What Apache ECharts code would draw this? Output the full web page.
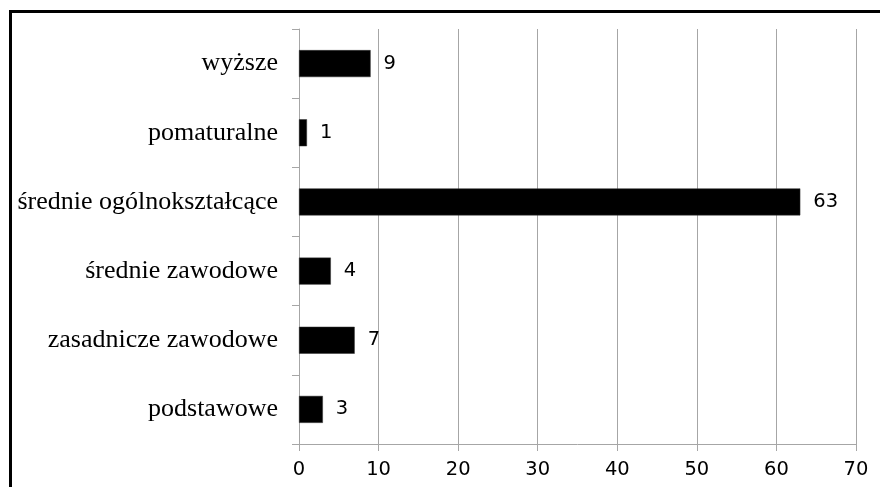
<!DOCTYPE html>
<html>
<head>
<meta charset="utf-8">
<script src="https://cdn.jsdelivr.net/npm/echarts@6/dist/echarts.min.js"></script>
<style>html,body{margin:0;padding:0;background:#fff}#c{width:880px;height:487px}</style>
</head>
<body>
<div id="c"></div>
<script>
const categories = ["podstawowe", "zasadnicze zawodowe", "średnie zawodowe", "średnie ogólnokształcące", "pomaturalne", "wyższe"];
const values = [3, 7, 4, 63, 1, 9];
const xTicks = [0, 10, 20, 30, 40, 50, 60, 70];

const chart = echarts.init(document.getElementById('c'), null, {renderer: 'canvas'});
const gridColor = '#a6a6a6';
chart.setOption({
  animation: false,
  backgroundColor: '#ffffff',
  graphic: [{
    type: 'rect',
    shape: {x: 10.5, y: 11.5, width: 1000, height: 1000},
    style: {fill: 'none', stroke: '#000', lineWidth: 3},
    silent: true, z: 100
  }],
  grid: {left: 299, right: 24, top: 29, bottom: 43, containLabel: false},
  xAxis: {
    type: 'value', min: xTicks[0], max: xTicks[xTicks.length - 1], interval: 10,
    axisLine: {show: true, lineStyle: {color: gridColor, width: 1}},
    axisTick: {show: true, length: 7, lineStyle: {color: gridColor}},
    splitLine: {show: true, lineStyle: {color: gridColor, width: 1}},
    axisLabel: {color: '#000', fontFamily: 'DejaVu Sans', fontSize: 19.5, margin: 16}
  },
  yAxis: {
    type: 'category', data: categories,
    axisLine: {show: true, lineStyle: {color: gridColor, width: 1}},
    axisTick: {show: true, length: 7, lineStyle: {color: gridColor}},
    axisLabel: {color: '#000', fontFamily: 'Liberation Serif', fontSize: 26, margin: 21}
  },
  series: [{
    type: 'bar', data: values, barWidth: 27,
    itemStyle: {color: '#000', borderColor: '#333', borderWidth: 0.5},
    label: {show: true, position: 'right', distance: 13, color: '#000', fontFamily: 'DejaVu Sans', fontSize: 19.5}
  }]
});
</script>
</body>
</html>
